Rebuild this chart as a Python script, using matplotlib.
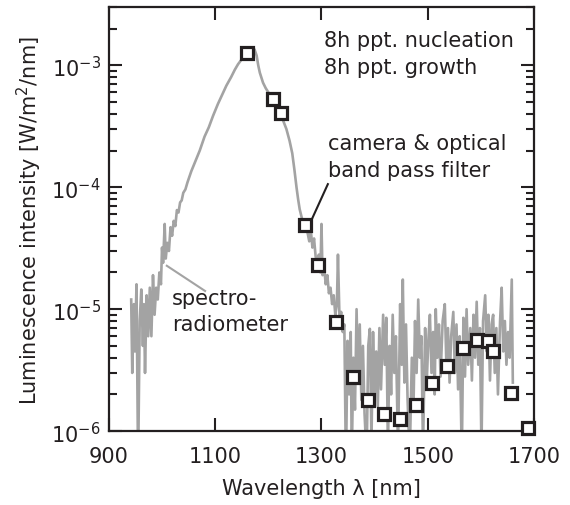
import numpy as np
import matplotlib
matplotlib.use("Agg")
import matplotlib.pyplot as plt

plt.rcParams['font.family'] = ['DejaVu Sans']
plt.rcParams['mathtext.fontset'] = 'custom'
plt.rcParams['mathtext.rm'] = 'DejaVu Sans'
plt.rcParams['mathtext.default'] = 'regular'

# spectro-radiometer spectrum
spec_wl = [942, 944, 947, 949, 952, 955, 958, 961, 964, 966, 968, 971, 974, 977, 980,
           983, 986, 989, 992, 995, 998, 1000, 1002, 1005, 1007, 1010, 1013, 1016, 1019,
           1022, 1025, 1028, 1031, 1034, 1037, 1040, 1044, 1048, 1055, 1062, 1071, 1080,
           1088, 1096, 1105, 1113, 1121, 1130, 1137, 1143, 1150, 1156, 1162, 1168, 1174,
           1178, 1181, 1184, 1190, 1195, 1200, 1205, 1210, 1216, 1222, 1228, 1234, 1240,
           1245, 1249, 1253, 1256, 1259, 1263, 1267, 1271, 1274, 1277, 1280, 1283, 1286,
           1289, 1292, 1295, 1298, 1300, 1302, 1305, 1308, 1311, 1314, 1317, 1320, 1323,
           1326, 1329, 1331, 1334, 1337, 1340, 1343, 1346, 1349, 1352, 1355, 1357, 1360,
           1363, 1366, 1369, 1372, 1375, 1378, 1381, 1385, 1388, 1391, 1394, 1397, 1400,
           1403, 1406, 1409, 1412, 1416, 1419, 1422, 1425, 1428, 1431, 1434, 1437, 1440,
           1444, 1448, 1451, 1453, 1456, 1459, 1462, 1466, 1470, 1473, 1476, 1479, 1482,
           1485, 1488, 1491, 1495, 1498, 1501, 1504, 1507, 1510, 1513, 1515, 1518, 1521,
           1524, 1528, 1532, 1535, 1538, 1541, 1544, 1548, 1551, 1554, 1557, 1560, 1564,
           1567, 1570, 1573, 1576, 1580, 1583, 1586, 1589, 1592, 1595, 1598, 1601, 1604,
           1608, 1611, 1614, 1617, 1620, 1623, 1626, 1629, 1632, 1636, 1639, 1642, 1645,
           1648, 1651, 1654, 1658, 1660]
spec_int = [1.2e-5, 3.0e-6, 1.1e-5, 4.5e-6, 1.6e-5, 5e-7, 8e-6, 1.45e-5, 5e-6, 1.1e-5,
            3.0e-6, 1.3e-5, 6e-6, 1.5e-5, 6e-6, 1.9e-5, 9e-6, 1.5e-5, 1.2e-5, 2.0e-5,
            1.6e-5, 3.2e-5, 2.4e-5, 5.0e-5, 2.6e-5, 3.5e-5, 3.0e-5, 4.7e-5, 4.0e-5,
            5.3e-5, 4.8e-5, 6.5e-5, 6.2e-5, 7.5e-5, 7.8e-5, 9.0e-5, 9.6e-5, 1.1e-4,
            1.35e-4, 1.6e-4, 2.0e-4, 2.6e-4, 3.1e-4, 3.85e-4, 4.8e-4, 5.7e-4, 6.8e-4,
            8.0e-4, 9.2e-4, 1.02e-3, 1.12e-3, 1.2e-3, 1.27e-3, 1.32e-3, 1.35e-3, 1.2e-3,
            1.0e-3, 8.7e-4, 7.2e-4, 6.5e-4, 6.0e-4, 5.6e-4, 5.2e-4, 4.6e-4, 4.1e-4,
            3.5e-4, 3.0e-4, 2.4e-4, 1.9e-4, 1.4e-4, 1.0e-4, 8.0e-5, 6.6e-5, 5.6e-5,
            5.0e-5, 4.6e-5, 4.2e-5, 3.6e-5, 4.4e-5, 3.2e-5, 3.8e-5, 2.7e-5, 2.4e-5,
            2.8e-5, 2.0e-5, 5.0e-5, 1.9e-5, 2.2e-5, 1.6e-5, 1.9e-5, 1.35e-5, 1.5e-5,
            1.1e-5, 1.3e-5, 9e-6, 1.1e-5, 2.8e-5, 8e-6, 9.5e-6, 6.5e-6, 7.5e-6, 5e-7,
            5.5e-6, 2.0e-6, 6.5e-6, 6e-7, 4.0e-6, 1.5e-6, 1.0e-5, 2.5e-6, 7.5e-6, 1.8e-6,
            5.0e-6, 1.4e-6, 6e-7, 5.0e-6, 6.9e-6, 8e-7, 6.5e-6, 2.0e-6, 4.5e-6, 1.6e-6,
            7.0e-6, 2.2e-6, 9.0e-6, 3.5e-6, 8.5e-6, 7e-7, 5.0e-6, 2.0e-6, 9.0e-6, 3.0e-6,
            6.0e-6, 7e-7, 1.1e-5, 3.5e-6, 1.75e-5, 2.5e-6, 7.5e-6, 1.8e-6, 6e-7, 4.0e-6,
            1.5e-6, 8.0e-6, 3.0e-6, 1.2e-5, 4.0e-6, 6.0e-6, 7e-7, 7.0e-6, 2.5e-6, 5.5e-6,
            9.0e-6, 3.0e-6, 6.5e-6, 2.0e-6, 1.0e-5, 4.0e-6, 7.5e-6, 2.8e-6, 8.0e-6,
            1.1e-5, 3.5e-6, 7.0e-6, 2.5e-6, 6.0e-6, 9.5e-6, 3.0e-6, 7.5e-6, 2.2e-6,
            6.0e-6, 6e-7, 8.5e-6, 2.8e-6, 1.0e-5, 3.5e-6, 7.0e-6, 2.6e-6, 9.0e-6, 4.0e-6,
            1.15e-5, 3.5e-6, 7.0e-6, 7e-7, 8.0e-6, 1.3e-5, 4.5e-6, 9.0e-6, 2.6e-6, 7.5e-6,
            9.0e-6, 3.0e-6, 7.0e-6, 2.0e-6, 8.0e-6, 1.5e-5, 4.5e-6, 8.0e-6, 3.5e-6,
            6.5e-6, 4.0e-6, 1.75e-5, 2.5e-6]

# camera + band pass filter points
cam_wl = [1160, 1209, 1223, 1269, 1294, 1328, 1360, 1388, 1418, 1448, 1478, 1508,
          1537, 1567, 1592, 1614, 1623, 1657, 1689]
cam_int = [1.25e-3, 5.3e-4, 4.05e-4, 4.9e-5, 2.3e-5, 7.9e-6, 2.8e-6, 1.8e-6, 1.38e-6,
           1.25e-6, 1.64e-6, 2.47e-6, 3.45e-6, 4.8e-6, 5.6e-6, 5.5e-6, 4.55e-6, 2.05e-6,
           1.07e-6]

xticks = [900, 1100, 1300, 1500, 1700]
yticks = [1e-6, 1e-5, 1e-4, 1e-3]
ylabels = ['10$^{-6}$', '10$^{-5}$', '10$^{-4}$', '10$^{-3}$']

ink = '#231f20'
grey = '#a3a3a3'

fig = plt.figure(figsize=(5.70, 5.06), dpi=100)
ax = fig.add_axes([0.191, 0.146, 0.746, 0.838])

ax.plot(spec_wl, spec_int, color=grey, lw=1.9, zorder=2)
ax.plot(cam_wl, cam_int, ls='none', marker='s', ms=8.8, mfc='white', mec=ink,
        mew=2.3, zorder=4, clip_on=False)

ax.set_yscale('log')
ax.set_xlim(900, 1700)
ax.set_ylim(1e-6, 3e-3)
ax.set_xticks(xticks)
ax.set_xticklabels([str(t) for t in xticks])
ax.set_yticks(yticks)
ax.set_yticklabels(ylabels)
ax.xaxis.set_minor_locator(plt.NullLocator())

ax.tick_params(which='both', direction='in', top=True, right=True, colors=ink,
               labelsize=15, width=1.5)
ax.tick_params(which='major', length=9.5)
ax.tick_params(which='minor', length=5.5)
ax.tick_params(axis='x', pad=11)
ax.tick_params(axis='y', pad=6)
for s in ax.spines.values():
    s.set_linewidth(1.6)
    s.set_color(ink)

ax.set_xlabel('Wavelength λ [nm]', fontsize=15, color=ink, labelpad=8)
ax.set_ylabel('Luminescence intensity [W/m$^2$/nm]', fontsize=15, color=ink, labelpad=5)

ax.text(0.506, 0.946, '8h ppt. nucleation\n8h ppt. growth', transform=ax.transAxes,
        fontsize=15, color=ink, va='top', ha='left', linespacing=1.45)
ax.text(0.515, 0.702, 'camera & optical\nband pass filter', transform=ax.transAxes,
        fontsize=15, color=ink, va='top', ha='left', linespacing=1.38)
ax.text(0.149, 0.338, 'spectro-\nradiometer', transform=ax.transAxes,
        fontsize=15, color=ink, va='top', ha='left', linespacing=1.38)

# leader lines
ax.plot([1312, 1283], [1.06e-4, 5.6e-5], color=ink, lw=1.5, zorder=3)
ax.plot([1009, 1081], [2.27e-5, 1.41e-5], color=grey, lw=1.5, zorder=3)

fig.savefig('out.png', dpi=100)
